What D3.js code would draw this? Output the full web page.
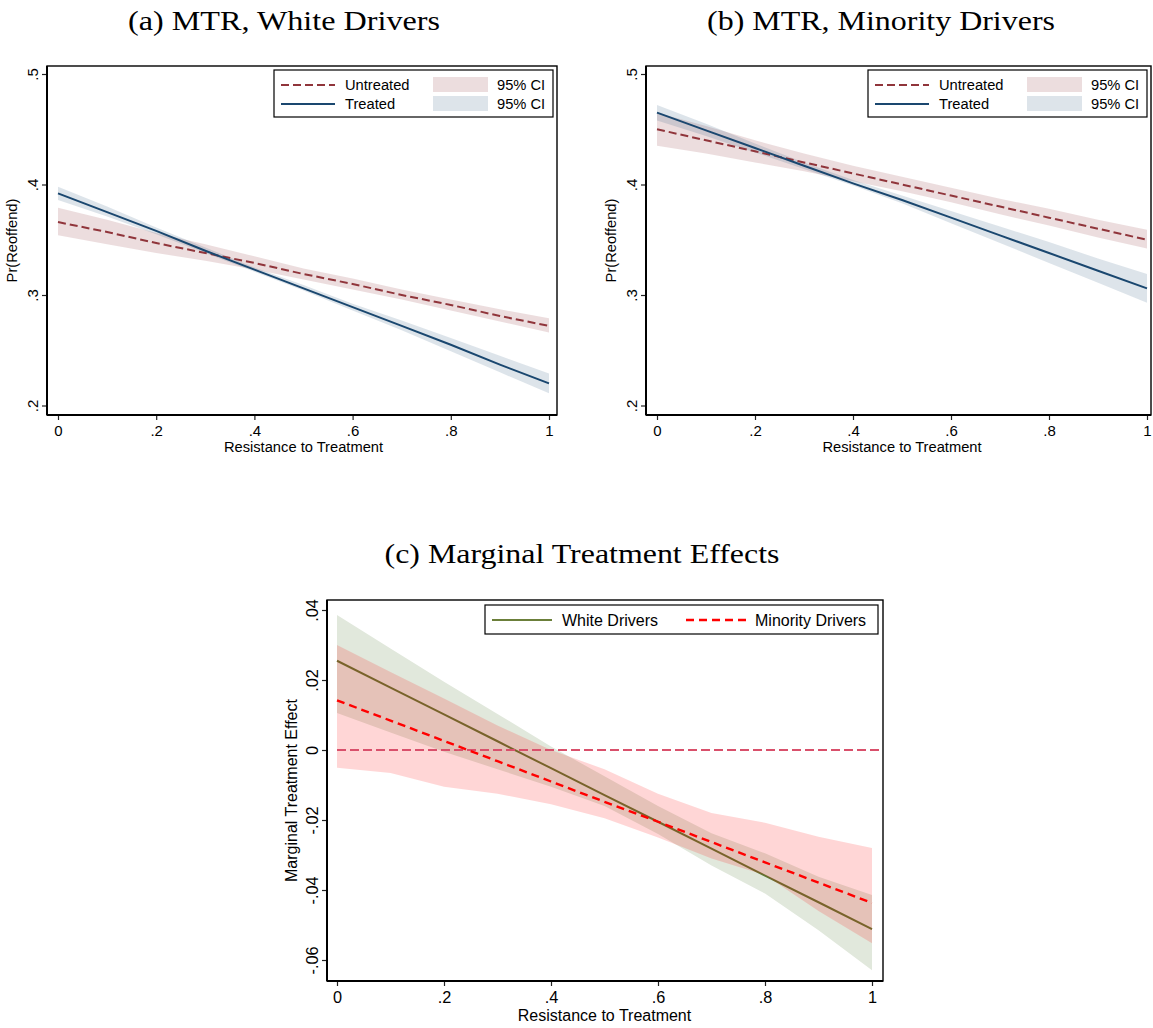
<!DOCTYPE html>
<meta charset="utf-8">
<style>
  body { margin: 0; background: #fff; }
  .title { font-family: "Liberation Serif", "DejaVu Serif", serif; font-size: 27px; fill: #000; }
  .axis text { font-family: "Liberation Sans", Arial, sans-serif; font-size: 15px; fill: #000; }
  .axis line { stroke: #222; stroke-width: 1.2; }
  .axis path { display: none; }
  .lab { font-family: "Liberation Sans", Arial, sans-serif; font-size: 14.7px; fill: #000; }
  .big .axis text { font-size: 16.3px; }
  .big .lab { font-size: 16px; }
  .frame { fill: none; stroke: #000; stroke-width: 1.4; }
</style>
<body>
<script src="https://d3js.org/d3.v7.min.js"></script>
<script>
// resistance grid shared by all series
var uGrid = [0, .1, .2, .3, .4, .5, .6, .7, .8, .9, 1];

// (a) white drivers
var whiteUntreated   = [.366, .357, .347, .338, .329, .319, .310, .300, .291, .281, .272];
var whiteUntreatedHi = [.379, .368, .356, .346, .335, .324, .315, .305, .296, .287, .279];
var whiteUntreatedLo = [.354, .346, .338, .331, .323, .314, .305, .296, .286, .276, .266];
var whiteTreated     = [.392, .375, .358, .340, .323, .306, .289, .272, .255, .237, .220];
var whiteTreatedHi   = [.398, .380, .361, .343, .325, .309, .292, .277, .261, .245, .229];
var whiteTreatedLo   = [.386, .371, .355, .338, .321, .304, .286, .268, .249, .230, .211];

// (b) minority drivers
var minUntreated   = [.450, .440, .430, .420, .410, .400, .390, .380, .370, .360, .350];
var minUntreatedHi = [.465, .453, .440, .428, .417, .407, .397, .387, .378, .368, .359];
var minUntreatedLo = [.435, .428, .420, .412, .403, .394, .384, .373, .363, .352, .342];
var minTreated     = [.465, .449, .433, .417, .401, .386, .370, .354, .338, .322, .306];
var minTreatedHi   = [.472, .455, .437, .420, .404, .390, .376, .362, .348, .333, .319];
var minTreatedLo   = [.458, .444, .429, .414, .399, .383, .365, .347, .329, .311, .293];

// (c) marginal treatment effects
var mteWhite     = [.0255, .0178, .0102, .0025, -.0052, -.0129, -.0205, -.0282, -.0359, -.0435, -.0512];
var mteWhiteHi   = [.0386, .0290, .0195, .0103, .0010, -.0075, -.0160, -.0238, -.0295, -.0362, -.0414];
var mteWhiteLo   = [.0106, .0050, -.0005, -.0055, -.0105, -.0160, -.0240, -.0330, -.0410, -.0515, -.0629];
var mteMinority   = [.0142, .0084, .0026, -.0032, -.0090, -.0148, -.0205, -.0263, -.0321, -.0379, -.0437];
var mteMinorityHi = [.0300, .0223, .0147, .0070, .0000, -.0055, -.0125, -.0180, -.0208, -.0248, -.0280];
var mteMinorityLo = [-.0051, -.0066, -.0105, -.0125, -.0155, -.0195, -.0250, -.0310, -.0357, -.0460, -.0552];

var xTicks = [0, .2, .4, .6, .8, 1];
var xTickLabels = ["0", ".2", ".4", ".6", ".8", "1"];
var mtrTicks = [.2, .3, .4, .5];
var mtrTickLabels = [".2", ".3", ".4", ".5"];
var mteTicks = [-.06, -.04, -.02, 0, .02, .04];
var mteTickLabels = ["-.06", "-.04", "-.02", "0", ".02", ".04"];

var maroon = "#90353b", navy = "#1a476f";

var svg = d3.select("body").append("svg")
    .attr("width", 1153)
    .attr("height", 1028);

function rows(lo, hi, mid) {
  return uGrid.map(function(u, i) { return {u: u, lo: lo ? lo[i] : null, hi: hi ? hi[i] : null, v: mid ? mid[i] : null}; });
}

function axes(g, x, y, fx, fy, yTicks, yLabels, yTitle, yTitleX, xTitleDy) {
  var labX = d3.scaleOrdinal().domain(xTicks).range(xTickLabels);
  var labY = d3.scaleOrdinal().domain(yTicks).range(yLabels);

  g.append("g").attr("class", "axis")
      .attr("transform", "translate(0," + fy[1] + ")")
      .call(d3.axisBottom(x).tickValues(xTicks).tickSize(5).tickPadding(5).tickFormat(labX));

  var ya = g.append("g").attr("class", "axis")
      .attr("transform", "translate(" + fx[0] + ",0)")
      .call(d3.axisLeft(y).tickValues(yTicks).tickSize(5).tickFormat(labY));
  ya.selectAll("text")
      .attr("x", 0).attr("dy", 0)
      .attr("text-anchor", "middle")
      .attr("transform", "translate(-9,0) rotate(-90)");

  g.append("rect").attr("class", "frame")
      .attr("x", fx[0]).attr("y", fy[0])
      .attr("width", fx[1] - fx[0]).attr("height", fy[1] - fy[0]);
  // heavier axis lines
  g.append("line").attr("x1", fx[0]).attr("x2", fx[0]).attr("y1", fy[0]).attr("y2", fy[1])
      .attr("stroke", "#000").attr("stroke-width", 2);
  g.append("line").attr("x1", fx[0]).attr("x2", fx[1]).attr("y1", fy[1]).attr("y2", fy[1])
      .attr("stroke", "#000").attr("stroke-width", 2);

  g.append("text").attr("class", "lab")
      .attr("x", (x.range()[0] + x.range()[1]) / 2).attr("y", fy[1] + xTitleDy)
      .attr("text-anchor", "middle")
      .text("Resistance to Treatment");
  g.append("text").attr("class", "lab")
      .attr("transform", "translate(" + yTitleX + "," + (fy[0] + fy[1]) / 2 + ") rotate(-90)")
      .attr("text-anchor", "middle")
      .text(yTitle);
}

function mtrPanel(p) {
  var g = svg.append("g");
  var x = d3.scaleLinear().domain([0, 1]).range(p.xr);
  var y = d3.scaleLinear().domain([.2, .5]).range([405.5, 74]);
  var fx = p.fx, fy = [66, 415];

  g.append("text").attr("class", "title")
      .attr("x", p.titleX).attr("y", 30).attr("text-anchor", "middle")
      .attr("textLength", p.titleW).attr("lengthAdjust", "spacingAndGlyphs")
      .text(p.title);

  var area = d3.area().x(function(d) { return x(d.u); })
      .y0(function(d) { return y(d.lo); }).y1(function(d) { return y(d.hi); });
  var line = d3.line().x(function(d) { return x(d.u); }).y(function(d) { return y(d.v); });

  g.append("path").datum(rows(p.uLo, p.uHi)).attr("d", area)
      .attr("fill", maroon).attr("fill-opacity", 0.17);
  g.append("path").datum(rows(p.tLo, p.tHi)).attr("d", area)
      .attr("fill", navy).attr("fill-opacity", 0.15);
  g.append("path").datum(rows(null, null, p.u)).attr("d", line)
      .attr("fill", "none").attr("stroke", maroon).attr("stroke-width", 2)
      .attr("stroke-dasharray", "8,4");
  g.append("path").datum(rows(null, null, p.t)).attr("d", line)
      .attr("fill", "none").attr("stroke", navy).attr("stroke-width", 2);

  axes(g, x, y, fx, fy, mtrTicks, mtrTickLabels, "Pr(Reoffend)", fx[0] - 30, 37);

  // legend
  var lx = fx[1] - 283, ly = 70;
  var lg = g.append("g").attr("transform", "translate(" + lx + "," + ly + ")");
  lg.append("rect").attr("width", 279).attr("height", 47)
      .attr("fill", "#fff").attr("stroke", "#000").attr("stroke-width", 1.2);
  var items = [
    {label: "Untreated", color: maroon, dash: "8,4", op: 0.17},
    {label: "Treated", color: navy, dash: null, op: 0.15}
  ];
  items.forEach(function(it, i) {
    var cy = 15 + i * 19;
    lg.append("line").attr("x1", 7).attr("x2", 61).attr("y1", cy).attr("y2", cy)
        .attr("stroke", it.color).attr("stroke-width", 2)
        .attr("stroke-dasharray", it.dash);
    lg.append("text").attr("class", "lab").attr("x", 71).attr("y", cy + 5).text(it.label);
    lg.append("rect").attr("x", 159).attr("y", cy - 8).attr("width", 55).attr("height", 15)
        .attr("fill", it.color).attr("fill-opacity", it.op);
    lg.append("text").attr("class", "lab").attr("x", 223).attr("y", cy + 5).text("95% CI");
  });
}

mtrPanel({
  title: "(a) MTR, White Drivers", titleX: 284, titleW: 312,
  xr: [58, 549], fx: [47, 557],
  u: whiteUntreated, uLo: whiteUntreatedLo, uHi: whiteUntreatedHi,
  t: whiteTreated, tLo: whiteTreatedLo, tHi: whiteTreatedHi
});
mtrPanel({
  title: "(b) MTR, Minority Drivers", titleX: 881, titleW: 348,
  xr: [657, 1147], fx: [646, 1151],
  u: minUntreated, uLo: minUntreatedLo, uHi: minUntreatedHi,
  t: minTreated, tLo: minTreatedLo, tHi: minTreatedHi
});

// (c) MTE panel
(function() {
  var g = svg.append("g").attr("class", "big");
  var x = d3.scaleLinear().domain([0, 1]).range([337, 872]);
  var y = d3.scaleLinear().domain([-.06, .04]).range([960, 610]);
  var fx = [327, 883], fy = [600, 981];

  g.append("text").attr("class", "title")
      .attr("x", 582).attr("y", 563).attr("text-anchor", "middle")
      .attr("textLength", 395).attr("lengthAdjust", "spacingAndGlyphs")
      .text("(c) Marginal Treatment Effects");

  var area = d3.area().x(function(d) { return x(d.u); })
      .y0(function(d) { return y(d.lo); }).y1(function(d) { return y(d.hi); });
  var line = d3.line().x(function(d) { return x(d.u); }).y(function(d) { return y(d.v); });

  var olive = "#5f7633";
  g.append("path").datum(rows(mteWhiteLo, mteWhiteHi)).attr("d", area)
      .attr("fill", "#e1e8dc");
  g.append("path").datum(rows(null, null, mteWhite)).attr("d", line)
      .attr("fill", "none").attr("stroke", olive).attr("stroke-width", 2);
  g.append("path").datum(rows(mteMinorityLo, mteMinorityHi)).attr("d", area)
      .attr("fill", "#ff0000").attr("fill-opacity", 0.16);
  g.append("line").attr("x1", x(0)).attr("x2", fx[1]).attr("y1", y(0)).attr("y2", y(0))
      .attr("stroke", "#d9506b").attr("stroke-width", 2).attr("stroke-dasharray", "9,4");
  g.append("path").datum(rows(null, null, mteMinority)).attr("d", line)
      .attr("fill", "none").attr("stroke", "#ff0000").attr("stroke-width", 2.4)
      .attr("stroke-dasharray", "8,5");

  axes(g, x, y, fx, fy, mteTicks, mteTickLabels, "Marginal Treatment Effect", 297, 40);

  var lg = g.append("g").attr("transform", "translate(485,605)");
  lg.append("rect").attr("width", 393).attr("height", 29)
      .attr("fill", "#fff").attr("stroke", "#000").attr("stroke-width", 1.2);
  lg.append("line").attr("x1", 7).attr("x2", 67).attr("y1", 15).attr("y2", 15)
      .attr("stroke", "#6b7f3a").attr("stroke-width", 2);
  lg.append("text").attr("class", "lab").attr("x", 77).attr("y", 21).text("White Drivers");
  lg.append("line").attr("x1", 201).attr("x2", 261).attr("y1", 15).attr("y2", 15)
      .attr("stroke", "#ff0000").attr("stroke-width", 2.4).attr("stroke-dasharray", "8,5");
  lg.append("text").attr("class", "lab").attr("x", 270).attr("y", 21).text("Minority Drivers");
})();
</script>
</body>
